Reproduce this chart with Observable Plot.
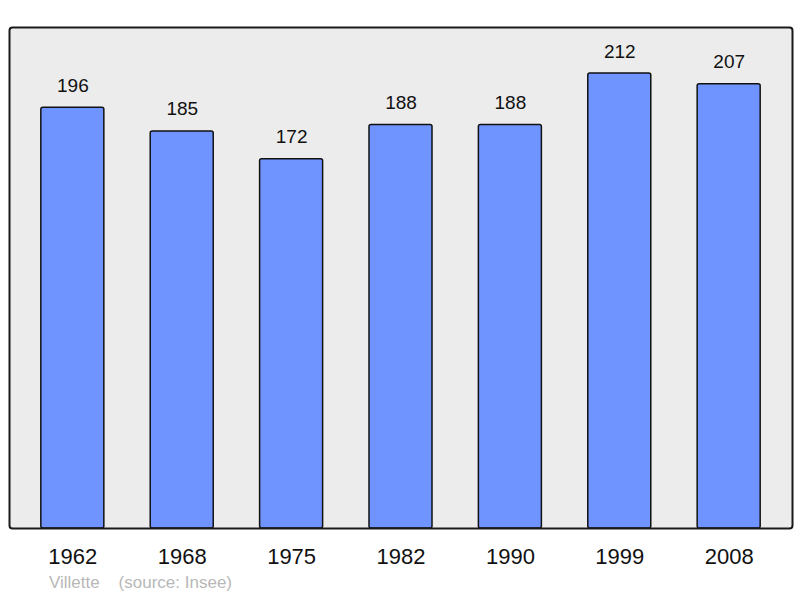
<!DOCTYPE html>
<html>
<head>
<meta charset="utf-8">
<script src="https://cdn.jsdelivr.net/npm/d3@7"></script>
<script src="https://cdn.jsdelivr.net/npm/@observablehq/plot@0.6"></script>
<style>
  html, body { margin: 0; padding: 0; background: #ffffff; }
  body { width: 800px; height: 598px; overflow: hidden; font-family: "Liberation Sans", Arial, sans-serif; }
  #caption { margin-left: 49px; padding-top: 1px; font-size: 17px; line-height: 20px; color: #b8b8b8; white-space: pre; }
</style>
</head>
<body>
<div id="chart"></div>
<div id="caption">Villette    (source: Insee)</div>
<script>
const years = ["1962", "1968", "1975", "1982", "1990", "1999", "2008"];
const population = [196, 185, 172, 188, 188, 212, 207];

const data = years.map((y, i) => ({year: y, value: population[i]}));

const chart = Plot.plot({
  width: 800,
  height: 572,
  marginTop: 27,
  marginBottom: 44,
  marginLeft: 9,
  marginRight: 8,
  style: {fontFamily: "'Liberation Sans', Arial, sans-serif", background: "transparent"},
  x: {domain: years, paddingInner: 0.424, paddingOuter: 0.291, round: false, label: null},
  y: {domain: [0, 233.4], axis: null},
  marks: [
    Plot.frame({fill: "#ececec", stroke: "none"}),
    Plot.barY(data, {x: "year", y: "value", fill: "#7094ff", stroke: "#111", strokeWidth: 1.5, rx: 2}),
    Plot.frame({stroke: "#1a1a1a", strokeWidth: 2, rx: 3, fill: "none"}),
    Plot.text(data, {x: "year", y: "value", text: d => String(d.value), dy: -22, fontSize: 19, fill: "#111"}),
    Plot.axisX({tickSize: 0, tickPadding: 20, fontSize: 22, label: null, color: "#111"})
  ]
});
document.getElementById("chart").appendChild(chart);
</script>
</body>
</html>
